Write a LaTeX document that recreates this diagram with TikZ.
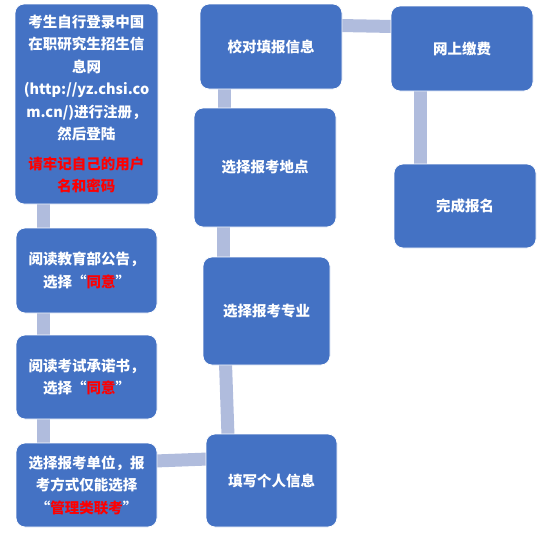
\documentclass[tikz,border=0pt]{standalone}
\usepackage{fontspec}
\newfontfamily\cjk{Noto Sans CJK SC}
\usetikzlibrary{calc,backgrounds}
\definecolor{boxblue}{RGB}{68,114,196}
\definecolor{connc}{RGB}{176,188,221}
\definecolor{redtxt}{RGB}{255,0,0}
\begin{document}
\begin{tikzpicture}[x=1pt,y=-1pt,
  box/.style={draw=white, line width=0.8pt, fill=boxblue, rounded corners=9pt,
    text=white, align=center, inner sep=0pt, outer sep=0pt,
    font=\cjk\bfseries\fontsize{14.5}{22.5}\selectfont},
  conn/.style={draw=connc, line width=13pt}]
\useasboundingbox (0,0) rectangle (554,533);
% boxes
\node[box, minimum width=143, minimum height=200] (b1) at (86.5,104)
  {考生自行登录中国\\在职研究生招生信\\息网\\(http://yz.chsi.co\\m.cn/)进行注册，\\然后登陆\\[7pt]
   \textcolor{redtxt}{请牢记自己的用户}\\\textcolor{redtxt}{名和密码}};
\node[box, minimum width=141, minimum height=85] (b2) at (86.5,270.5)
  {阅读教育部公告，\\选择“\textcolor{redtxt}{同意}”};
\node[box, minimum width=141, minimum height=84] (b3) at (86.5,377)
  {阅读考试承诺书，\\选择“\textcolor{redtxt}{同意}”};
\node[box, minimum width=141, minimum height=84] (b4) at (86.5,485)
  {选择报考单位，报\\考方式仅能选择\\“\textcolor{redtxt}{管理类联考}”};
\node[box, minimum width=131, minimum height=93] (b5) at (271.5,480.5) {填写个人信息};
\node[box, minimum width=127, minimum height=108] (b6) at (266.5,311) {选择报考专业};
\node[box, minimum width=142, minimum height=119] (b7) at (265,167.5) {选择报考地点};
\node[box, minimum width=142, minimum height=85] (b8) at (271,46.5) {校对填报信息};
\node[box, minimum width=142, minimum height=85] (b9) at (462,48.5) {网上缴费};
\node[box, minimum width=142, minimum height=84] (b10) at (465,206) {完成报名};
% connectors, behind the boxes
\begin{scope}[on background layer]
\draw[conn] ($(b1.south west)+(28.5,-2)$) -- ($(b2.north west)+(27.5,2)$);
\draw[conn] ($(b2.south west)+(27.5,-2)$) -- ($(b3.north west)+(27.5,2)$);
\draw[conn] ($(b3.south west)+(27.5,-2)$) -- ($(b4.north west)+(27.5,2)$);
\draw[conn] ($(b4.north east)+(-2,18)$) -- ($(b5.north west)+(2,25)$);
\draw[conn] ($(b5.north west)+(22,2)$) -- ($(b6.south west)+(22.5,-2)$);
\draw[conn] ($(b6.north west)+(20.5,2)$) -- ($(b7.south west)+(29.5,-2)$);
\draw[conn] ($(b7.north west)+(30.5,2)$) -- ($(b8.south west)+(24.5,-2)$);
\draw[conn] ($(b8.north east)+(-2,21.5)$) -- ($(b9.north west)+(2,20.5)$);
\draw[conn] ($(b9.south west)+(29,-2)$) -- ($(b10.north west)+(26,2)$);
\end{scope}
\end{tikzpicture}
\end{document}
